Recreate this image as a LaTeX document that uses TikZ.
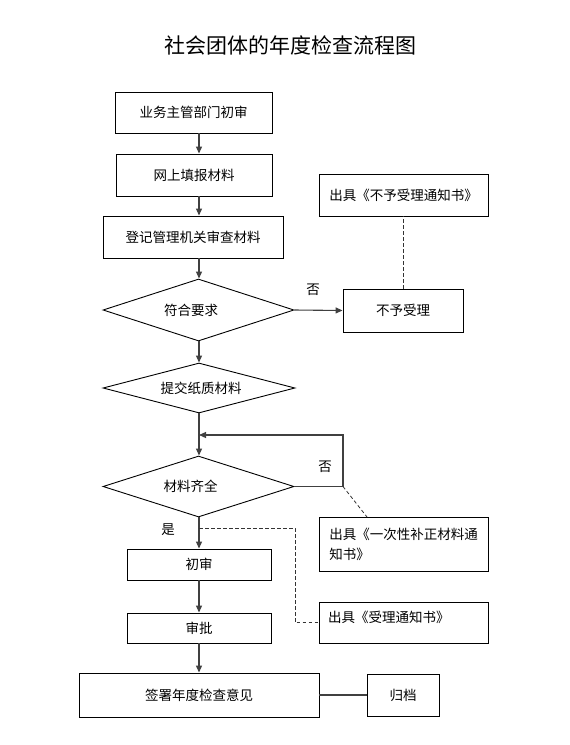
\documentclass[tikz,border=0pt]{standalone}
\usepackage{fontspec}
\newfontfamily\cjk{Noto Sans CJK SC}
\usetikzlibrary{shapes.geometric,arrows.meta,calc}
\begin{document}
\begin{tikzpicture}[x=1pt,y=-1pt,
  every node/.style={font=\cjk\fontsize{13.5}{20}\selectfont, inner sep=0pt},
  box/.style={draw=black, line width=0.9pt, rectangle, fill=white},
  dia/.style={draw=black, line width=0.9pt, diamond, fill=white},
  conn/.style={draw=black!75, line width=1.1pt},
  arr/.style={conn, -{Triangle[length=7pt,width=6pt]}},
  dsh/.style={draw=black!80, line width=0.8pt, dash pattern=on 3.5pt off 2.5pt},
  ttl/.style={font=\cjk\fontsize{21}{24}\selectfont}]
\useasboundingbox[fill=white] (0,0) rectangle (570,745);
\coordinate (ax) at (199,0);
\node[ttl] (title) at (290.5,45) {社会团体的年度检查流程图};
% main column
\node[box, minimum width=157pt, minimum height=41pt] (b1) at (193.5,112.5) {业务主管部门初审};
\node[box, minimum width=156pt, minimum height=42pt] (b2) at (194,175) {网上填报材料};
\node[box, minimum width=180pt, minimum height=42pt] (b3) at (193,237) {登记管理机关审查材料};
\node[dia, minimum width=191pt, minimum height=62pt, label={[xshift=-7.5pt, name=d1t]center:符合要求}] (d1) at (198.5,310) {};
\node[dia, minimum width=192pt, minimum height=50pt, label={[xshift=2pt, name=d2t]center:提交纸质材料}] (d2) at (199,388) {};
\node[dia, minimum width=191pt, minimum height=61pt, label={[xshift=-8pt, name=d3t]center:材料齐全}] (d3) at (198.5,486.5) {};
\node[box, minimum width=144pt, minimum height=31pt] (chu) at (199,564.5) {初审};
\node[box, minimum width=144pt, minimum height=30pt] (shen) at (199,628) {审批};
\node[box, minimum width=240pt, minimum height=44pt] (sign) at (199,695) {签署年度检查意见};
% right column
\node[box, minimum width=169pt, minimum height=42pt] (n1) at (403.5,195) {出具《不予受理通知书》};
\node[box, minimum width=120pt, minimum height=43pt] (rej) at (403,310.5) {不予受理};
\node[box, minimum width=169pt, minimum height=54pt, align=left] (n2) at (403.5,544) {出具《一次性补正材料通\\知书》};
\node[box, minimum width=169pt, minimum height=41pt] (n3) at (403.5,622.5) {};
\node[anchor=west] (n3t) at (328,617) {出具《受理通知书》};
\node[box, minimum width=72pt, minimum height=42pt] (gd) at (403,695) {归档};
% labels
\node (no1) at (313,290) {否};
\node (no2) at (325,467) {否};
\node (yes) at (168,530) {是};
% helper coordinates
\coordinate (lc) at (343,486.5);
\coordinate (lt) at (343,435);
\coordinate (la) at (199,435);
\coordinate (n2in) at (367,517);
\coordinate (ds) at (199,528);
\coordinate (dc) at (295,528);
% connectors
\draw[arr] (b1.south -| ax) -- (b2.north -| ax);
\draw[arr] (b2.south -| ax) -- (b3.north -| ax);
\draw[arr] (b3.south -| ax) -- (d1.north -| ax);
\draw[arr] (d1.south -| ax) -- (d2.north -| ax);
\draw[arr] (d1.east) -- (rej.west);
\draw[dsh] (rej.north) -- (rej.north |- n1.south);
\draw[arr] (d2.south -| ax) -- (d3.north -| ax);
\draw[arr] (d3.east) -- (lc) -- (lt) -- (la);
\draw[dsh] (lc) -- (n2in);
\draw[arr] (d3.south -| ax) -- (chu.north -| ax);
\draw[dsh] (ds) -- (dc) |- (n3.west);
\draw[arr] (chu.south -| ax) -- (shen.north -| ax);
\draw[arr] (shen.south -| ax) -- (sign.north -| ax);
\draw[conn] (sign.east) -- (gd.west);
\end{tikzpicture}
\end{document}
